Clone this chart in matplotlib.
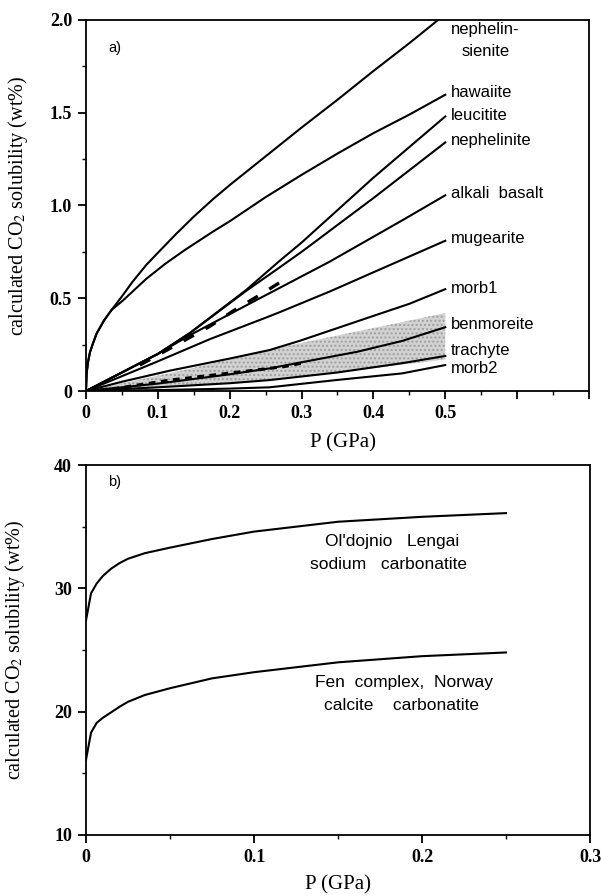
import numpy as np
import matplotlib
matplotlib.use('Agg')
import matplotlib.pyplot as plt
from matplotlib.ticker import MultipleLocator, FixedLocator, FixedFormatter

plt.rcParams['mathtext.fontset'] = 'stix'

# ---- panel a) : silicate melts, P in GPa, CO2 in wt%
p_start = [0, 0.001, 0.003, 0.0056, 0.01, 0.0148, 0.025, 0.0356]
v_start = [0, 0.10, 0.16, 0.21, 0.26, 0.31, 0.38, 0.437]

p_neph_sien = p_start + [0.05, 0.065, 0.084, 0.1, 0.125, 0.15, 0.177, 0.2, 0.25, 0.3, 0.35, 0.4, 0.45, 0.49]
v_neph_sien = v_start + [0.51, 0.59, 0.68, 0.745, 0.845, 0.94, 1.035, 1.11, 1.265, 1.42, 1.57, 1.725, 1.875, 2.0]

p_hawaiite = p_start + [0.052, 0.07, 0.084, 0.11, 0.1375, 0.177, 0.2, 0.25, 0.3, 0.35, 0.4, 0.45, 0.5]
v_hawaiite = v_start + [0.49, 0.555, 0.605, 0.685, 0.76, 0.86, 0.915, 1.045, 1.165, 1.28, 1.39, 1.49, 1.597]

p_leucitite = [0, 0.1, 0.144, 0.223, 0.269, 0.3, 0.35, 0.4, 0.45, 0.5]
v_leucitite = [0, 0.2, 0.311, 0.545, 0.70, 0.80, 0.975, 1.15, 1.315, 1.48]

p_nephelinite = [0, 0.1, 0.144, 0.223, 0.269, 0.3, 0.35, 0.4, 0.45, 0.5]
v_nephelinite = [0, 0.2, 0.311, 0.54, 0.665, 0.75, 0.895, 1.04, 1.19, 1.34]

p_alk_basalt = [0, 0.1, 0.144, 0.237, 0.339, 0.441, 0.5]
v_alk_basalt = [0, 0.2, 0.30, 0.49, 0.697, 0.922, 1.055]

p_mugearite = [0, 0.1, 0.172, 0.252, 0.269, 0.339, 0.4, 0.5]
v_mugearite = [0, 0.16, 0.279, 0.398, 0.424, 0.536, 0.64, 0.81]

p_morb1 = [0, 0.05, 0.117, 0.2, 0.2556, 0.297, 0.339, 0.4, 0.45, 0.5]
v_morb1 = [0, 0.05, 0.11, 0.175, 0.221, 0.27, 0.325, 0.405, 0.47, 0.549]

p_benmoreite = [0, 0.1, 0.2, 0.2556, 0.3, 0.378, 0.44, 0.5]
v_benmoreite = [0, 0.04, 0.09, 0.122, 0.155, 0.212, 0.27, 0.344]

p_trachyte = [0, 0.1, 0.2, 0.2556, 0.35, 0.44, 0.5]
v_trachyte = [0, 0.02, 0.042, 0.059, 0.10, 0.15, 0.189]

p_morb2 = [0, 0.1, 0.2, 0.2556, 0.348, 0.44, 0.5]
v_morb2 = [0, 0.005, 0.013, 0.02, 0.059, 0.095, 0.14]

# dashed curves
p_long_dash = [0.075, 0.172, 0.207, 0.242, 0.283]
v_long_dash = [0.14, 0.348, 0.437, 0.518, 0.617]
p_short_dash = [0.02, 0.043, 0.117, 0.2556, 0.275, 0.3]
v_short_dash = [0.006, 0.015, 0.059, 0.122, 0.131, 0.15]

# shaded band
p_band = [0, 0.136, 0.275, 0.5]
band_hi = [0, 0.113, 0.239, 0.42]
band_lo = [0, 0.03, 0.065, 0.17]

curves_a = [
    (p_neph_sien, v_neph_sien), (p_hawaiite, v_hawaiite), (p_leucitite, v_leucitite),
    (p_nephelinite, v_nephelinite), (p_alk_basalt, v_alk_basalt), (p_mugearite, v_mugearite),
    (p_morb1, v_morb1), (p_benmoreite, v_benmoreite), (p_trachyte, v_trachyte),
    (p_morb2, v_morb2),
]
labels_a = ['hawaiite', 'leucitite', 'nephelinite', 'alkali  basalt', 'mugearite',
            'morb1', 'benmoreite', 'trachyte', 'morb2']
label_y_a = [1.607, 1.483, 1.348, 1.063, 0.82, 0.55, 0.356, 0.216, 0.124]

# ---- panel b) : carbonatites
p_carb = [0, 0.003, 0.0064, 0.01, 0.015, 0.02, 0.025, 0.035, 0.05, 0.075, 0.1, 0.15, 0.2, 0.25]
v_oldoinyo = [27.4, 29.6, 30.4, 31.0, 31.6, 32.05, 32.4, 32.85, 33.3, 34.0, 34.6, 35.4, 35.8, 36.1]
v_fen = [16.1, 18.3, 19.1, 19.5, 19.95, 20.4, 20.8, 21.35, 21.9, 22.7, 23.2, 24.0, 24.5, 24.8]

serif = 'Liberation Serif'
sans = 'Liberation Sans'

fig = plt.figure(figsize=(6.01, 8.96), dpi=100)
ax1 = fig.add_axes([0.1431, 0.5636, 0.8369, 0.4141])
ax2 = fig.add_axes([0.1431, 0.0681, 0.8386, 0.4129])

# panel a
ax1.fill_between(p_band, band_lo, band_hi, facecolor='#d2d2d2', edgecolor='#a0a0a0',
                 hatch='....', linewidth=0, zorder=1)
for p, v in curves_a:
    ax1.plot(p, v, color='black', lw=1.5, zorder=3)
ax1.plot(p_long_dash, v_long_dash, color='black', lw=2.4, dashes=(3.5, 4.0), zorder=4)
ax1.plot(p_short_dash, v_short_dash, color='black', lw=2.2, dashes=(2.2, 1.8), zorder=4)

ax1.text(0.508, 1.947, 'nephelin-', family=sans, fontsize=12, va='center')
ax1.text(0.523, 1.83, 'sienite', family=sans, fontsize=12, va='center')
for lab, y in zip(labels_a, label_y_a):
    ax1.text(0.508, y, lab, family=sans, fontsize=12, va='center')
ax1.text(0.044, 0.915, 'a)', family=sans, fontsize=10.5, transform=ax1.transAxes)

ax1.set_xlim(0, 0.7)
ax1.set_ylim(0, 2.0)
ax1.xaxis.set_major_locator(FixedLocator([0, 0.1, 0.2, 0.3, 0.4, 0.5, 0.6, 0.7]))
ax1.xaxis.set_major_formatter(FixedFormatter(['0', '0.1', '0.2', '0.3', '0.4', '0.5', '', '']))
ax1.xaxis.set_minor_locator(MultipleLocator(0.05))
ax1.yaxis.set_major_locator(FixedLocator([0, 0.5, 1.0, 1.5, 2.0]))
ax1.yaxis.set_major_formatter(FixedFormatter(['0', '0.5', '1.0', '1.5', '2.0']))
ax1.yaxis.set_minor_locator(MultipleLocator(0.25))
ax1.set_xlabel('P (GPa)', family=serif, fontsize=15)
ax1.set_ylabel('calculated CO$_2$ solubility (wt%)', family=serif, fontsize=14.5)
ax1.yaxis.set_label_coords(-0.112, 0.5)
ax1.xaxis.set_label_coords(0.51, -0.115)

# panel b
ax2.plot(p_carb, v_oldoinyo, color='black', lw=1.5)
ax2.plot(p_carb, v_fen, color='black', lw=1.5)
ax2.text(0.182, 33.8, "Ol'dojnio   Lengai", family=sans, fontsize=12.5, ha='center', va='center')
ax2.text(0.18, 31.9, 'sodium   carbonatite', family=sans, fontsize=12.5, ha='center', va='center')
ax2.text(0.189, 22.4, 'Fen  complex,  Norway', family=sans, fontsize=12.5, ha='center', va='center')
ax2.text(0.188, 20.5, 'calcite    carbonatite', family=sans, fontsize=12.5, ha='center', va='center')
ax2.text(0.044, 0.955, 'b)', family=sans, fontsize=10.5, transform=ax2.transAxes, va='center')

ax2.set_xlim(0, 0.3)
ax2.set_ylim(10, 40)
ax2.xaxis.set_major_locator(FixedLocator([0, 0.1, 0.2, 0.3]))
ax2.xaxis.set_major_formatter(FixedFormatter(['0', '0.1', '0.2', '0.3']))
ax2.xaxis.set_minor_locator(MultipleLocator(0.05))
ax2.yaxis.set_major_locator(MultipleLocator(10))
ax2.yaxis.set_minor_locator(MultipleLocator(5))
ax2.set_xlabel('P (GPa)', family=serif, fontsize=15)
ax2.set_ylabel('calculated CO$_2$ solubility (wt%)', family=serif, fontsize=14.5)
ax2.yaxis.set_label_coords(-0.118, 0.5)
ax2.xaxis.set_label_coords(0.50, -0.11)

for ax in (ax1, ax2):
    for sp in ax.spines.values():
        sp.set_linewidth(1.3)
    ax.tick_params(which='major', direction='out', length=6, width=1.3, pad=4)
    ax.tick_params(which='minor', direction='out', length=3, width=1.0)
    for t in ax.get_xticklabels() + ax.get_yticklabels():
        t.set_fontfamily(serif)
        t.set_fontweight('bold')
        t.set_fontsize(13)

fig.savefig('out.png', dpi=100)
